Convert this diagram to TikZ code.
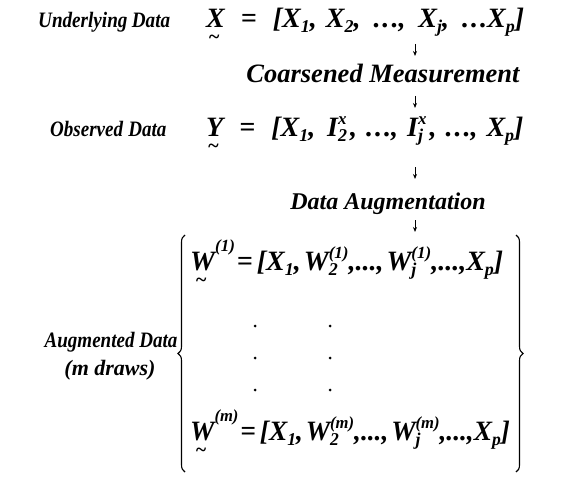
\documentclass[tikz,border=0pt]{standalone}
\usepackage{fontspec}
\setmainfont{Liberation Serif}
\usetikzlibrary{arrows.meta,decorations.pathreplacing}
\newsavebox{\utbox}
\newcommand{\ut}[1]{\sbox{\utbox}{#1}\rlap{\hbox to\wd\utbox{\hss\raisebox{-16pt}{\fontsize{20}{20}\selectfont\textasciitilde}\hss\hskip3pt}}\usebox{\utbox}}
\newcommand{\sbs}[1]{\raisebox{-5pt}{\fontsize{18}{18}\selectfont #1}}
\newcommand{\sps}[1]{\raisebox{12pt}{\fontsize{17}{17}\selectfont #1}}
\newcommand{\hsp}[1]{\raisebox{19pt}{\fontsize{17}{17}\selectfont #1}}
\newcommand{\both}[2]{\sbox0{\sps{#2}}\sbox2{\sbs{#1}}\ifdim\wd0>\wd2 \rlap{\copy2}\copy0\else\rlap{\copy0}\copy2\fi}
\newcommand{\dd}{.\kern2pt.\kern2pt.}
\newcommand{\eqg}{\hspace{16pt}=\hspace{16pt}}
\begin{document}
\begin{tikzpicture}[x=1pt,y=-1pt,
  bi/.style={inner sep=0pt,font=\bfseries\itshape},
  lbl/.style={bi,font=\fontsize{22}{26}\selectfont\bfseries\itshape},
  mrow/.style={bi,anchor=base west,font=\fontsize{28}{32}\selectfont\bfseries\itshape},
  arr/.style={line width=0.9pt,-{Stealth[length=5pt,width=4pt]}},
  dotn/.style={circle,fill,inner sep=0pt,minimum size=3pt},
  brc/.style={line width=1.1pt,decorate,decoration={brace,amplitude=7pt}}]
\useasboundingbox (0,0) rectangle (561,481);
\node[lbl,anchor=base west] (ul) at (38,28) {\scalebox{0.87}[1]{Underlying\hspace{5pt}Data}};
\node[mrow] (xrow) at (206,28) {\ut{X}\eqg[X\sbs{1},\hspace{9pt}X\sbs{2},\hspace{13pt}\dd,\hspace{13pt}X\sbs{j},\hspace{13pt}\dd X\sbs{p}]};
\node[bi,anchor=base,font=\fontsize{26.5}{30}\selectfont\bfseries\itshape] (cm) at (383,83) {Coarsened Measurement};
\node[lbl,anchor=base west] (od) at (50,137) {\scalebox{0.865}[1]{Observed\hspace{6pt}Data}};
\node[mrow] (yrow) at (206,137) {\ut{Y}\eqg[X\sbs{1},\hspace{12pt}I\both{2}{x}\hspace{3pt},\hspace{9pt}\dd,\hspace{9pt}I\both{j}{x}\hspace{3pt},\hspace{9pt}\dd,\hspace{9pt}X\sbs{p}]};
\node[bi,anchor=base,font=\fontsize{24}{28}\selectfont\bfseries\itshape] (da) at (388,209) {Data Augmentation};
\node[mrow] (w1) at (190,270) {\ut{W}\hsp{(1)}\hspace{2pt}=\hspace{4pt}[X\sbs{1},\hspace{3pt}W\both{2}{(1)},...,\hspace{3pt}W\both{j}{(1)},...,X\sbs{p}]};
\node[mrow] (wm) at (190,440) {\scalebox{0.977}[1]{\ut{W}\hsp{(\textit{m})}\hspace{2pt}=\hspace{4pt}[X\sbs{1},\hspace{3pt}W\both{2}{(\textit{m})},...,\hspace{3pt}W\both{j}{(\textit{m})},...,X\sbs{p}]}};
\node[lbl,anchor=base] (ad) at (111,347) {\scalebox{0.865}[1]{Augmented Data}};
\node[lbl,anchor=base] (mdr) at (110,375) {(\textit{m} draws)};
\foreach \i/\yy in {1/326,2/358,3/390}{
  \node[dotn] (dl\i) at (255,\yy) {};
  \node[dotn] (dr\i) at (330,\yy) {};
}
\coordinate (a1s) at (415,44); \coordinate (a1e) at (415,56);
\coordinate (a2s) at (415,96); \coordinate (a2e) at (415,108);
\coordinate (a3s) at (415,167); \coordinate (a3e) at (415,179);
\coordinate (a4s) at (415,220); \coordinate (a4e) at (415,232);
\draw[arr] (a1s) -- (a1e);
\draw[arr] (a2s) -- (a2e);
\draw[arr] (a3s) -- (a3e);
\draw[arr] (a4s) -- (a4e);
\coordinate (lbt) at (185,235); \coordinate (lbb) at (185,472);
\coordinate (rbt) at (516,235); \coordinate (rbb) at (516,472);
\draw[brc] (lbb) -- (lbt);
\draw[brc] (rbt) -- (rbb);
\end{tikzpicture}
\end{document}
